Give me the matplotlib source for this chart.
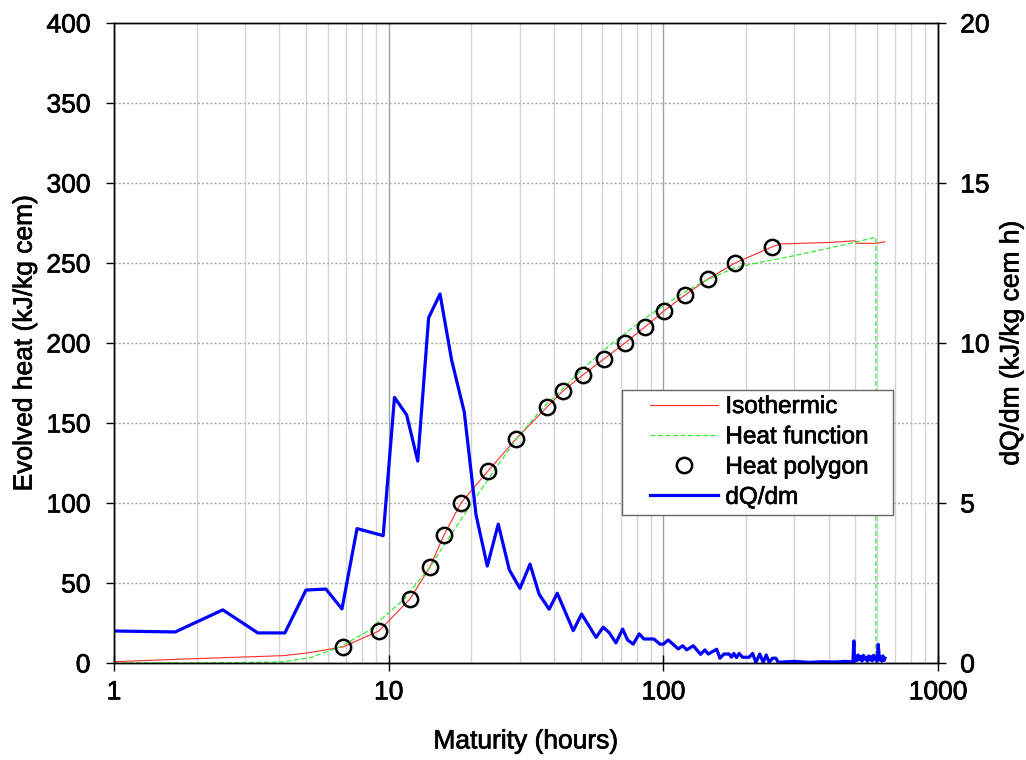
import numpy as np
import matplotlib.pyplot as plt
import matplotlib.patheffects as pe
from matplotlib.ticker import FixedLocator, FixedFormatter, LogLocator, NullFormatter
from matplotlib.lines import Line2D
from matplotlib.patches import Rectangle

plt.rcParams['font.family'] = ['Liberation Sans', 'DejaVu Sans']

# Isothermic (measured) heat curve
iso_t = [1, 1.69, 4.14, 5.17, 6.65, 6.82, 9.22, 11.95, 14.14, 15.9, 18.33, 23.0, 29.07,
         37.7, 43.1, 50.9, 60.8, 72.5, 85.7, 100.5, 119.9, 145.3, 182.3, 248.4,
         266, 400, 498, 505, 595, 641]
iso_q = [0.8, 2.3, 4.6, 6.5, 9.8, 10, 20, 40, 60, 80, 100, 120, 140,
         160, 170, 180, 190, 200, 210, 220, 230, 240, 250, 260,
         261.9, 262.8, 263.9, 262.3, 262.3, 263.3]

# Heat function (fitted)
fun_t = [1, 2, 3, 4.14, 5.17, 6.65, 8.4, 11.4, 14.14, 16.82, 20.1, 24.15, 29.2,
         36.6, 42.3, 50.9, 60.8, 72.5, 85.7, 100.5, 120, 144, 182, 225, 289, 393,
         500, 589, 594, 594.01]
fun_q = [0, 0.1, 0.3, 0.8, 3.3, 10, 20, 40, 60, 80, 100, 120, 140,
         160, 170, 184, 195.6, 206, 215.5, 223.5, 232, 239.4, 247, 250.5, 254, 259,
         263, 266, 266, 0]

# Heat polygon points
poly_t = [6.82, 9.22, 11.95, 14.14, 15.9, 18.33, 23.0, 29.07, 37.7, 43.1, 50.9,
          60.8, 72.5, 85.7, 100.5, 119.9, 145.3, 182.3, 248.4]
poly_q = [10, 20, 40, 60, 80, 100, 120, 140, 160, 170, 180,
          190, 200, 210, 220, 230, 240, 250, 260]

# dQ/dm rate
rate_t = [1, 1.67, 2.49, 3.34, 4.19, 5.0, 5.91, 6.76, 7.67, 9.55, 10.5, 11.63, 12.76,
          13.98, 15.38, 16.95, 18.84, 20.8, 22.86, 25.06, 27.5, 30.06, 32.7, 35.3,
          38.4, 41.1, 47.0, 50.4, 56.9, 60.4, 63.5, 67.2, 71.1, 74.1, 77.7, 81.7,
          85.0, 92.4, 97.2, 100, 104.2, 113.3, 117.6, 121.6, 128.5, 136.7, 141.7,
          145.7, 156.4, 160.7, 166.2, 173.8, 177, 180.6, 184.7, 188.9, 194.2, 205.5,
          211.3, 217.3, 224.4, 231, 237, 242.9, 249.9, 257, 262, 270, 300, 340, 380,
          420, 460, 490,
          494, 497, 502, 507, 512, 518, 523, 529, 535, 541, 547, 553, 559, 565, 571,
          577, 583, 589, 595, 600, 606, 612, 618, 624, 630, 636, 641]
rate_v = [1.0, 0.97, 1.66, 0.94, 0.94, 2.28, 2.31, 1.69, 4.2, 3.98, 8.3, 7.75, 6.31,
          10.79, 11.53, 9.47, 7.85, 4.63, 3.03, 4.34, 2.91, 2.33, 3.09, 2.15,
          1.68, 2.18, 1.01, 1.53, 0.80, 1.12, 0.95, 0.63, 1.06, 0.72, 0.59, 0.91,
          0.75, 0.75, 0.59, 0.59, 0.72, 0.44, 0.54, 0.41, 0.54, 0.27, 0.41,
          0.28, 0.43, 0.15, 0.28, 0.28, 0.18, 0.30, 0.17, 0.30, 0.18, 0.18,
          0.30, 0.02, 0.28, 0.02, 0.25, 0.02, 0.15, 0.15, 0.02, 0.03, 0.05, 0.02, 0.04,
          0.03, 0.05, 0.03,
          0.69, 0.05, 0.22, 0.08, 0.25, 0.10, 0.20, 0.06, 0.24, 0.12, 0.18, 0.05, 0.22,
          0.10, 0.20, 0.07, 0.24, 0.12, 0.18, 0.05, 0.58, 0.10, 0.20, 0.06, 0.22, 0.08, 0.15]

W, H = 1026, 760
fig = plt.figure(figsize=(W / 100, H / 100), dpi=100)
ax = fig.add_axes([114/W, 1-663/H, (938-114)/W, (663-23)/H])
ax2 = ax.twinx()

ax.set_xscale('log')
ax.set_xlim(1, 1000)
ax.set_ylim(0, 400)
ax2.set_ylim(0, 20)

# grid
ax.xaxis.set_major_locator(FixedLocator([1, 10, 100, 1000]))
ax.xaxis.set_major_formatter(FixedFormatter(['1', '10', '100', '1000']))
ax.xaxis.set_minor_locator(LogLocator(base=10, subs=np.arange(2, 10)))
ax.xaxis.set_minor_formatter(NullFormatter())
ax.set_yticks(np.arange(0, 401, 50))
ax2.set_yticks(np.arange(0, 21, 5))
ax.grid(True, which='major', axis='x', color='#a0a0a0', lw=1.0)
ax.grid(True, which='minor', axis='x', color='#d4d4d4', lw=1.0)
ax.grid(True, which='major', axis='y', color='#a8a8a8', lw=1.0, ls=(0, (1.5, 1.5)))
ax.set_axisbelow(True)

red = '#ff2a2a'
green = '#33ee33'
ax.plot(iso_t, iso_q, color=red, lw=0.8)
ax.plot(fun_t, fun_q, color=green, lw=0.9, ls=(0, (4, 2)))
ax.plot(poly_t, poly_q, ls='none', marker='o', ms=11, mfc='none', mec='black', mew=1.8)
ax2.plot(rate_t, rate_v, color='blue', lw=2.3)

fs = 19
ax.tick_params(axis='x', which='major', direction='inout', length=11, width=1, labelsize=fs, pad=7)
ax.tick_params(axis='x', which='minor', length=0)
ax.tick_params(axis='y', direction='out', length=6, width=1, labelsize=fs, pad=11)
ax2.tick_params(axis='y', direction='out', length=6, width=1, labelsize=fs, pad=10)
for a in (ax, ax2):
    for s in a.spines.values():
        s.set_linewidth(1.0)

ax.set_xlabel('Maturity (hours)', fontsize=fs, labelpad=18)
ax.set_ylabel('Evolved heat (kJ/kg cem)', fontsize=fs, labelpad=7)
ax2.set_ylabel('dQ/dm (kJ/kg cem h)', fontsize=fs, labelpad=7)

# legend: white box with text and keys
ax2.add_patch(Rectangle((622/W, 1-515/H), 271/W, 125/H, transform=fig.transFigure,
                        facecolor='white', edgecolor='#666666', lw=1.0, zorder=4.5, clip_on=False))
handles = [Line2D([], [], color=red, lw=0.8),
           Line2D([], [], color=green, lw=0.9, ls=(0, (4, 2))),
           Line2D([], [], ls='none', marker='o', ms=11, mfc='none', mec='black', mew=1.8),
           Line2D([], [], color='blue', lw=2.3)]
labels = ['Isothermic', 'Heat function', 'Heat polygon', 'dQ/dm']
leg = ax2.legend(handles, labels, loc='upper left', bbox_to_anchor=(650/W, 1-396/H),
                 bbox_transform=fig.transFigure, fontsize=17.5, frameon=False,
                 handlelength=2.8, handletextpad=0.3, labelspacing=0.34, borderpad=0,
                 borderaxespad=0)

# slightly heavier text, as in the original rendering
heavy = [pe.withStroke(linewidth=0.5, foreground='black')]
texts = (ax.get_xticklabels() + ax.get_yticklabels() + ax2.get_yticklabels()
         + [ax.xaxis.label, ax.yaxis.label, ax2.yaxis.label] + leg.get_texts())
for t in texts:
    t.set_path_effects(heavy)

fig.savefig('out.png', dpi=100)
